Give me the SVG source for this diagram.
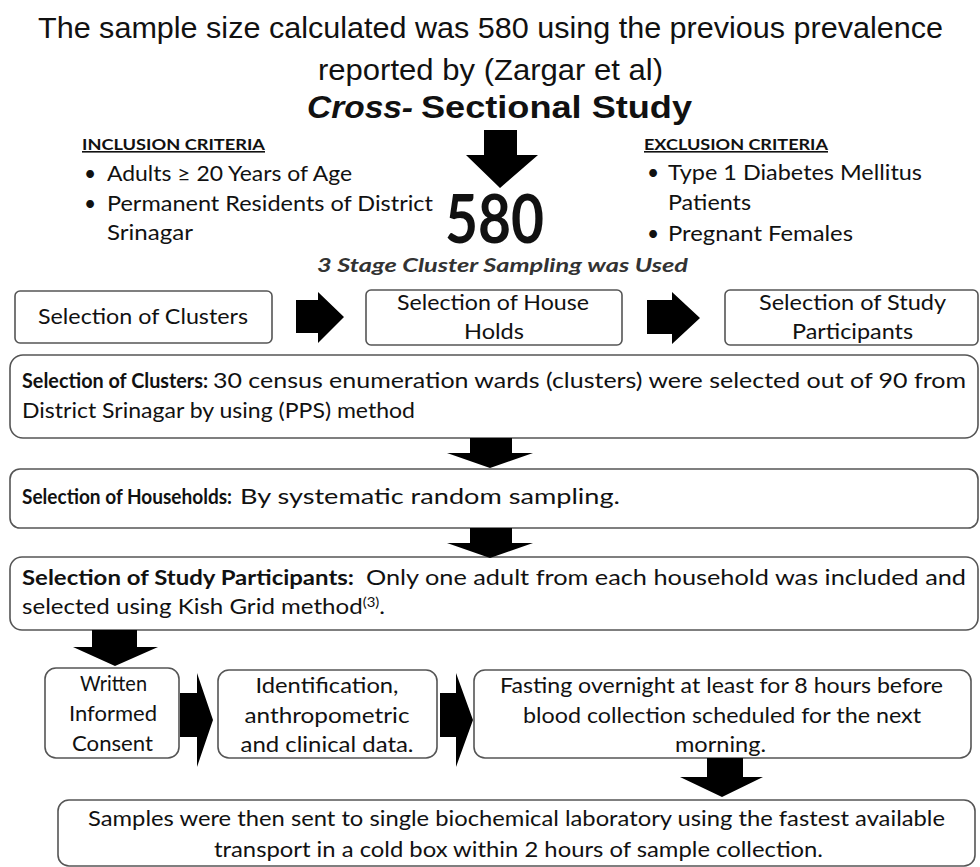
<svg xmlns="http://www.w3.org/2000/svg" width="980" height="867" viewBox="0 0 980 867">
<style>
.t{font-family:Lato,"Liberation Sans",sans-serif;fill:#111}
.h{font-family:"Liberation Sans",Lato,sans-serif;fill:#111}
.b{font-weight:bold}
.box{fill:#fff;stroke:#555;stroke-width:1.6}
.arr{fill:#000}
</style>
<rect width="980" height="867" fill="#fff"/>
<g id="title">
<text class="h" x="38" y="38" font-size="29" textLength="905" lengthAdjust="spacingAndGlyphs">The sample size calculated was 580 using the previous prevalence</text>
<text class="h" x="318" y="80" font-size="29" textLength="345" lengthAdjust="spacingAndGlyphs">reported by (Zargar et al)</text>
<text class="h b" x="307" y="118" font-size="32" font-style="italic" textLength="106" lengthAdjust="spacingAndGlyphs">Cross-</text>
<text class="h b" x="421" y="118" font-size="32" textLength="271" lengthAdjust="spacingAndGlyphs">Sectional Study</text>
</g>
<g id="inclusion">
<text class="t b" x="82" y="150" font-size="16" text-decoration="underline" textLength="183" lengthAdjust="spacingAndGlyphs">INCLUSION CRITERIA</text>
<text class="t" x="84" y="181" font-size="21">•</text>
<text class="t" x="107" y="181" font-size="21" textLength="245" lengthAdjust="spacingAndGlyphs">Adults ≥ 20 Years of Age</text>
<text class="t" x="84" y="211" font-size="21">•</text>
<text class="t" x="107" y="211" font-size="21" textLength="326" lengthAdjust="spacingAndGlyphs">Permanent Residents of District</text>
<text class="t" x="107" y="240" font-size="21" textLength="86" lengthAdjust="spacingAndGlyphs">Srinagar</text>
</g>
<g id="exclusion">
<text class="t b" x="644" y="150" font-size="16" text-decoration="underline" textLength="184" lengthAdjust="spacingAndGlyphs">EXCLUSION CRITERIA</text>
<text class="t" x="647" y="180" font-size="21">•</text>
<text class="t" x="668" y="180" font-size="21" textLength="254" lengthAdjust="spacingAndGlyphs">Type 1 Diabetes Mellitus</text>
<text class="t" x="668" y="210" font-size="21" textLength="83" lengthAdjust="spacingAndGlyphs">Patients</text>
<text class="t" x="647" y="241" font-size="21">•</text>
<text class="t" x="668" y="241" font-size="21" textLength="185" lengthAdjust="spacingAndGlyphs">Pregnant Females</text>
</g>
<g id="n580">
<text class="t b" x="445" y="243" font-size="66" textLength="99" lengthAdjust="spacingAndGlyphs">580</text>
<text class="t b" x="317" y="272" font-size="19" font-style="italic" style="fill:#333" textLength="371" lengthAdjust="spacingAndGlyphs">3 Stage Cluster Sampling was Used</text>
</g>
<g id="stage1">
<rect class="box" x="15" y="291" width="257" height="52" rx="5"/>
<text class="t" x="38" y="324" font-size="21" textLength="210" lengthAdjust="spacingAndGlyphs">Selection of Clusters</text>
</g>
<g id="stage2">
<rect class="box" x="366" y="290" width="256" height="55" rx="5"/>
<text class="t" x="397" y="310" font-size="21" textLength="192" lengthAdjust="spacingAndGlyphs">Selection of House</text>
<text class="t" x="464" y="339" font-size="21" textLength="60" lengthAdjust="spacingAndGlyphs">Holds</text>
</g>
<g id="stage3">
<rect class="box" x="725" y="290" width="253" height="55" rx="5"/>
<text class="t" x="759" y="310" font-size="21" textLength="187" lengthAdjust="spacingAndGlyphs">Selection of Study</text>
<text class="t" x="792" y="339" font-size="21" textLength="121" lengthAdjust="spacingAndGlyphs">Participants</text>
</g>
<g id="clusters">
<rect class="box" x="10" y="355" width="968" height="83" rx="13"/>
<text class="t b" x="22" y="388" font-size="21" textLength="186" lengthAdjust="spacingAndGlyphs">Selection of Clusters:</text>
<text class="t" x="213" y="388" font-size="21" textLength="753" lengthAdjust="spacingAndGlyphs">30 census enumeration wards (clusters) were selected out of 90 from</text>
<text class="t" x="22" y="418" font-size="21" textLength="393" lengthAdjust="spacingAndGlyphs">District Srinagar by using (PPS) method</text>
</g>
<g id="households">
<rect class="box" x="10" y="469" width="968" height="59" rx="10"/>
<text class="t b" x="22" y="504" font-size="21" textLength="210" lengthAdjust="spacingAndGlyphs">Selection of Households:</text>
<text class="t" x="240" y="504" font-size="21" textLength="380" lengthAdjust="spacingAndGlyphs">By systematic random sampling.</text>
</g>
<g id="participants">
<rect class="box" x="10" y="557" width="968" height="73" rx="12"/>
<text class="t b" x="22" y="585" font-size="21" textLength="332" lengthAdjust="spacingAndGlyphs">Selection of Study Participants:</text>
<text class="t" x="366" y="585" font-size="21" textLength="600" lengthAdjust="spacingAndGlyphs">Only one adult from each household was included and</text>
<text class="t" x="22" y="614" font-size="21" textLength="363" lengthAdjust="spacingAndGlyphs">selected using Kish Grid method<tspan font-size="13" dy="-7">(3)</tspan><tspan dy="7">.</tspan></text>
</g>
<g id="consent">
<rect class="box" x="45" y="668" width="134" height="90" rx="11"/>
<text class="t" x="80" y="691" font-size="21" textLength="67" lengthAdjust="spacingAndGlyphs">Written</text>
<text class="t" x="69" y="721" font-size="21" textLength="88" lengthAdjust="spacingAndGlyphs">Informed</text>
<text class="t" x="72" y="751" font-size="21" textLength="81" lengthAdjust="spacingAndGlyphs">Consent</text>
</g>
<g id="identification">
<rect class="box" x="218" y="670" width="219" height="88" rx="11"/>
<text class="t" x="327" y="693" font-size="21" text-anchor="middle" textLength="143" lengthAdjust="spacingAndGlyphs">Identification,</text>
<text class="t" x="327" y="723" font-size="21" text-anchor="middle" textLength="165" lengthAdjust="spacingAndGlyphs">anthropometric</text>
<text class="t" x="327" y="752" font-size="21" text-anchor="middle" textLength="173" lengthAdjust="spacingAndGlyphs">and clinical data.</text>
</g>
<g id="fasting">
<rect class="box" x="474" y="670" width="497" height="88" rx="11"/>
<text class="t" x="500" y="693" font-size="21" textLength="443" lengthAdjust="spacingAndGlyphs">Fasting overnight at least for 8 hours before</text>
<text class="t" x="523" y="723" font-size="21" textLength="398" lengthAdjust="spacingAndGlyphs">blood collection scheduled for the next</text>
<text class="t" x="675" y="752" font-size="21" textLength="91" lengthAdjust="spacingAndGlyphs">morning.</text>
</g>
<g id="samples">
<rect class="box" x="58" y="800" width="917" height="66" rx="11"/>
<text class="t" x="88" y="826" font-size="21" textLength="857" lengthAdjust="spacingAndGlyphs">Samples were then sent to single biochemical laboratory using the fastest available</text>
<text class="t" x="214" y="857" font-size="21" textLength="609" lengthAdjust="spacingAndGlyphs">transport in a cold box within 2 hours of sample collection.</text>
</g>
<g id="connectors">
<polygon class="arr" points="484,130 517,130 517,155 538,155 500,188 466,155 484,155"/>
<polygon class="arr" points="296,300 318,300 318,292 344,317 318,343 318,333 296,333"/>
<polygon class="arr" points="647,300 672,300 672,292 700,318 672,344 672,334 647,334"/>
<polygon class="arr" points="470,438 512,438 512,453 533,453 490,468 447,453 470,453"/>
<polygon class="arr" points="470,528 512,528 512,543 533,543 490,558 447,543 470,543"/>
<polygon class="arr" points="92,630 137,630 137,647 158,647 115,666 73,647 92,647"/>
<polygon class="arr" points="180,693 197,693 197,673 213,720 197,767 197,737 180,737"/>
<polygon class="arr" points="440,693 456,693 456,673 473,720 456,767 456,737 440,737"/>
<polygon class="arr" points="707,758 743,758 743,777 763,777 722,797 680,777 707,777"/>
</g>
</svg>
